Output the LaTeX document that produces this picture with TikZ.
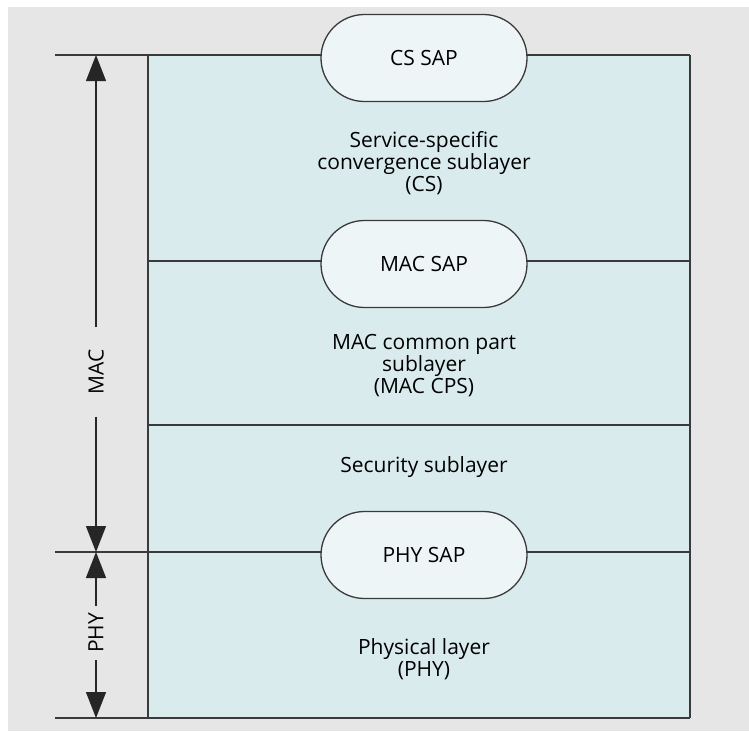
\documentclass[tikz,border=0pt]{standalone}
\usepackage{fontspec}
\setmainfont{Open Sans}
\usetikzlibrary{arrows.meta,shapes.misc}
\definecolor{panelgray}{HTML}{E6E6E6}
\definecolor{layerblue}{HTML}{DAEBEE}
\definecolor{sapfill}{HTML}{EEF5F7}
\definecolor{rulegray}{HTML}{3A3A3A}
\tikzset{
  rule/.style={draw=rulegray,line width=1.3pt},
  sapbox/.style={rounded rectangle,draw=rulegray,line width=1.3pt,fill=sapfill,
    minimum width=206pt,minimum height=87pt,inner sep=0pt,font=\fontsize{21}{23}\selectfont},
  layertext/.style={align=center,inner sep=0pt,font=\fontsize{21}{22}\selectfont},
  dimlabel/.style={rotate=90,inner ysep=0pt,font=\fontsize{21}{23}\selectfont},
  dimarrow/.style={draw=black!85,line width=1.2pt,-{Triangle[length=26pt,width=20pt]}}
}
\begin{document}
\begin{tikzpicture}[x=1pt,y=-1pt]
  \useasboundingbox (0,0) rectangle (749,731);
  \fill[white] (0,0) rectangle (749,731);
  \fill[panelgray] (8,7) rectangle (749,731);
  \fill[layerblue] (148,55) rectangle (690,718);

  % layer boundaries
  \coordinate (topL) at (55,55);     \coordinate (topR) at (690,55);
  \coordinate (csL) at (148,261);    \coordinate (csR) at (690,261);
  \coordinate (secL) at (148,425);   \coordinate (secR) at (690,425);
  \coordinate (phyL) at (55,552);    \coordinate (phyR) at (690,552);
  \coordinate (botL) at (55,718);    \coordinate (botR) at (690,718);
  \draw[rule] (topL) -- (topR);
  \draw[rule] (csL) -- (csR);
  \draw[rule] (secL) -- (secR);
  \draw[rule] (phyL) -- (phyR);
  \draw[rule] (botL) -- (botR);
  \draw[rule] (148,55) -- (148,718);
  \draw[rule,line width=1.8pt] (690,55) -- (690,718);

  % service access points
  \node[sapbox] (cssap) at (424,58) {CS SAP};
  \node[sapbox] (macsap) at (424,264) {MAC SAP};
  \node[sapbox] (physap) at (424,555) {PHY SAP};

  % layer texts
  \node[layertext] (cstext) at (424,163) {Service-specific\\convergence sublayer\\(CS)};
  \node[layertext] (cpstext) at (424,366) {MAC common part\\sublayer\\(MAC CPS)};
  \node[layertext] (sectext) at (424,467) {Security sublayer};
  \node[layertext] (phytext) at (424,659) {Physical layer\\(PHY)};

  % extents on the left
  \coordinate (macT) at (96,55);
  \coordinate (macB) at (96,552);
  \coordinate (phyT) at (96,552);
  \coordinate (phyB) at (96,718);
  \node[dimlabel,inner xsep=22pt] (maclabel) at (96,372) {MAC};
  \node[dimlabel,inner xsep=7pt] (phylabel) at (96,633) {PHY};
  \draw[dimarrow] (maclabel.east) -- (macT);
  \draw[dimarrow] (maclabel.west) -- (macB);
  \draw[dimarrow] (phylabel.east) -- (phyT);
  \draw[dimarrow] (phylabel.west) -- (phyB);
\end{tikzpicture}
\end{document}
